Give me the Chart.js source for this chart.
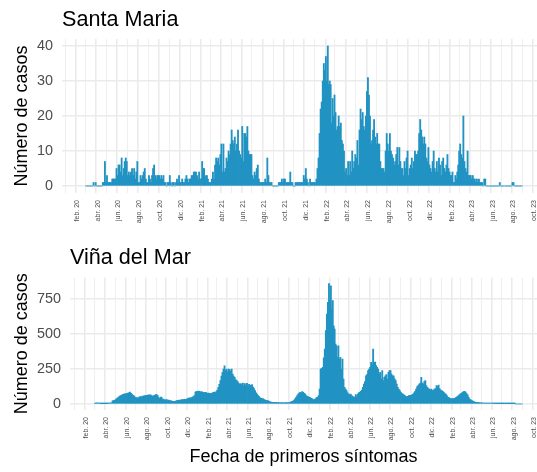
<!DOCTYPE html>
<html>
<head>
<meta charset="utf-8">
<script src="https://cdn.jsdelivr.net/npm/chart.js@4.4.1/dist/chart.umd.min.js"></script>
<style>
  html, body { margin: 0; padding: 0; background: #ffffff; }
  #wrap { position: relative; width: 537px; height: 472px; overflow: hidden; background: #ffffff; }
  #wrap canvas { position: absolute; left: 0; }
</style>
</head>
<body>
<div id="wrap">
  <canvas id="santaMaria" width="537" height="236" style="top:0px"></canvas>
  <canvas id="vina" width="537" height="236" style="top:236px"></canvas>
</div>
<script>
// Daily cases grouped as ten consecutive slices per calendar month.
// Santa Maria: series starts March 2020.
const smCases2020 = [
  0,0,0,0,0,0,0,1,0,1,
  0,0,0,0,0,0,1,1,7,1,
  3,1,1,1,1,2,2,2,2,5,
  3,6,6,4,8,3,5,7,8,7,
  3,4,3,4,5,3,5,2,4,7,
  1,1,3,2,3,4,5,2,1,1,
  3,2,1,3,5,6,3,2,3,3,
  3,2,3,2,3,1,1,0,1,1,
  3,1,0,1,1,0,1,2,1,3,
  1,1,2,1,1,2,3,2,1,2
];
const smCases2021 = [
  2,3,3,4,4,4,3,2,4,2,
  2,7,5,5,2,3,3,2,1,1,
  1,2,4,2,6,8,7,8,6,9,
  12,4,12,4,5,8,7,10,9,12,
  16,13,12,14,10,12,16,10,9,8,
  17,7,15,15,14,17,10,9,9,9,
  3,2,4,3,5,6,2,1,1,1,
  1,1,2,1,8,3,1,1,1,0,
  0,0,0,0,0,1,1,1,2,1,
  2,2,1,1,1,1,4,1,1,0,
  0,1,1,1,1,1,1,1,1,3,
  2,5,2,1,0,2,1,1,1,1
];
const smCases2022 = [
  1,2,5,8,15,22,24,30,35,33,
  37,30,40,29,30,29,18,25,20,26,
  21,16,17,20,17,18,13,12,10,4,
  5,3,7,3,7,4,10,5,7,9,
  8,13,6,16,22,19,21,17,16,20,
  27,31,26,20,12,13,16,19,14,12,
  15,12,12,7,5,5,5,4,10,15,
  12,10,15,10,9,8,6,7,9,11,
  6,11,7,5,5,3,7,5,8,10,
  3,5,6,8,5,7,10,9,9,10,
  15,19,16,14,12,14,12,8,7,11,
  6,5,4,7,10,5,4,7,4,8
];
const smCases2023 = [
  6,3,7,8,5,4,6,9,5,4,
  3,3,4,1,1,3,2,4,6,10,
  12,9,8,20,7,5,4,10,3,3,
  3,2,3,2,2,1,2,1,2,1,
  1,1,0,2,2,0,0,0,0,0,
  0,0,0,0,0,0,0,0,1,0,
  0,0,0,0,0,0,0,0,0,0,
  1,1,0,0,0,0,0,0,0,0
];

// Viña del Mar: series starts March 2020.
const vinaCases2020 = [
  4,7,8,6,7,3,3,2,3,3,
  3,3,3,6,7,8,7,22,24,26,
  32,39,44,50,56,60,64,68,70,72,
  73,75,78,80,85,76,70,61,58,50,
  44,46,40,49,52,50,56,55,60,58,
  61,62,66,63,65,60,56,58,62,68,
  68,60,45,39,50,45,32,35,28,30,
  31,24,28,24,22,20,19,17,19,22,
  24,26,27,25,29,32,30,33,32,34,
  36,40,44,42,46,49,52,60,85,90
];
const vinaCases2021 = [
  88,92,90,85,88,84,83,80,83,78,
  76,78,76,72,76,80,83,85,82,88,
  100,119,140,167,200,226,250,272,240,250,
  230,250,245,235,250,214,200,190,175,167,
  160,150,140,145,138,150,128,145,132,148,
  125,140,135,130,138,120,110,95,80,71,
  60,52,44,40,38,36,32,28,26,24,
  22,18,15,12,12,12,11,10,12,10,
  10,9,8,10,8,9,8,10,9,10,
  9,12,15,17,20,28,36,48,60,71,
  78,83,80,88,83,76,70,60,55,52,
  48,45,40,36,30,33,36,45,48,60
];
const vinaCases2022 = [
  107,250,255,262,330,393,524,643,726,860,
  738,845,678,738,559,536,428,416,333,416,
  321,333,250,321,178,119,107,95,80,71,
  65,71,60,55,48,50,67,55,70,80,
  83,90,100,119,143,160,202,210,238,250,
  262,297,285,393,297,300,274,262,250,214,
  226,178,238,167,190,202,210,178,226,238,
  238,214,202,202,180,167,143,119,107,95,
  83,75,71,65,60,55,48,55,60,62,
  60,65,71,80,90,107,125,131,143,150,
  190,150,143,160,167,131,119,110,107,100,
  107,95,100,107,110,131,125,135,110,100
];
const vinaCases2023 = [
  95,90,83,75,70,60,48,45,40,36,
  36,38,36,40,45,50,55,60,68,72,
  76,84,88,90,85,75,65,48,35,29,
  25,20,17,14,12,12,10,10,9,8,
  8,7,6,7,6,5,6,5,5,5,
  5,4,4,4,4,3,4,3,4,3,
  3,3,4,3,3,3,3,3,3,3,
  3,3,3,0,0,0,0,0,0,0
];

// Axis text
const monthAbbr = ['ene.','feb.','mar.','abr.','may.','jun.','jul.','ago.','sep.','oct.','nov.','dic.'];
const yTitle = 'Número de casos';
const xTitle = 'Fecha de primeros síntomas';
const smTicks = [0, 5, 10, 15, 20, 25, 30, 35, 40];
const vinaTicks = [0, 125, 250, 375, 500, 625, 750, 875];

const FONT = '"Liberation Sans", Arial, Helvetica, sans-serif';
const BAR = '#2193c3';
const GRID = '#ebebeb';
const DAY = 86400000;
const ORIGIN = Date.UTC(2020, 0, 1);
const dayOf = (y, m, d) => (Date.UTC(y, m, d) - ORIGIN) / DAY;

// Monthly grid lines from Jan 2020 to Oct 2023; every other month is labelled.
const monthTicks = [];
for (let y = 2020; y <= 2023; y++) {
  for (let m = 0; m < 12; m++) {
    if (y === 2023 && m > 9) break;
    const isMajor = m % 2 === 1;
    monthTicks.push({
      value: dayOf(y, m, 1),
      isMajor,
      label: isMajor ? monthAbbr[m] + ' ' + String(y).slice(2) : ''
    });
  }
}

// Place the ten slices of each month evenly across that month.
function toPoints(startYear, startMonth, values) {
  const pts = [];
  for (let k = 0; k < values.length; k++) {
    const mi = startMonth + Math.floor(k / 10);
    const y = startYear + Math.floor(mi / 12);
    const m = mi % 12;
    const s = dayOf(y, m, 1);
    const e = dayOf(y, m + 1, 1);
    pts.push({ x: s + ((k % 10) + 0.5) * (e - s) / 10, y: values[k] });
  }
  return pts;
}

const smPoints = toPoints(2020, 2, [...smCases2020, ...smCases2021, ...smCases2022, ...smCases2023]);
const vinaPoints = toPoints(2020, 2, [...vinaCases2020, ...vinaCases2021, ...vinaCases2022, ...vinaCases2023]);

// Panel title drawn flush with the plotting area.
const panelTitle = {
  id: 'panelTitle',
  afterDraw(chart, args, o) {
    const { ctx, chartArea } = chart;
    ctx.save();
    ctx.font = '21.6px ' + FONT;
    ctx.fillStyle = '#000000';
    ctx.textAlign = 'left';
    ctx.textBaseline = 'alphabetic';
    ctx.fillText(o.text, chartArea.left, o.y);
    ctx.restore();
  }
};

function panel(id, cfg) {
  return new Chart(document.getElementById(id), {
    type: 'bar',
    data: {
      datasets: [{
        data: cfg.points,
        backgroundColor: BAR,
        borderWidth: 0,
        barThickness: 1.2,
        grouped: false
      }]
    },
    options: {
      responsive: false,
      animation: false,
      devicePixelRatio: 1,
      layout: { padding: { top: cfg.top, left: 0, right: 0, bottom: 0 } },
      plugins: {
        legend: { display: false },
        tooltip: { enabled: false },
        panelTitle: { text: cfg.title, y: cfg.titleY }
      },
      scales: {
        x: {
          type: 'linear',
          min: cfg.xmin,
          max: cfg.xmax,
          offset: false,
          afterBuildTicks: s => { s.ticks = monthTicks.map(t => ({ value: t.value, isMajor: t.isMajor })); },
          afterFit: s => { s.height = cfg.xh; s.paddingLeft = 0; s.paddingRight = 0; },
          grid: {
            offset: false,
            drawTicks: false,
            color: GRID,
            lineWidth: c => (c.tick && c.tick.isMajor) ? 1.6 : 0.8
          },
          border: { display: false },
          ticks: {
            autoSkip: false,
            minRotation: 90,
            maxRotation: 90,
            padding: 7,
            labelOffset: 1.5,
            color: '#4d4d4d',
            font: { family: FONT, size: 7 },
            callback: (v, i) => monthTicks[i] ? monthTicks[i].label : ''
          },
          title: cfg.showXTitle ? {
            display: true,
            text: xTitle,
            color: '#000000',
            font: { family: FONT, size: 18 },
            padding: { top: 0, bottom: 3.7 }
          } : { display: false }
        },
        y: {
          min: cfg.ymin,
          max: cfg.ymax,
          afterBuildTicks: s => { s.ticks = cfg.yTicks.map(v => ({ value: v, isMajor: v % cfg.yMajor === 0 })); },
          afterFit: s => { s.width = cfg.yw; s.paddingTop = 0; s.paddingBottom = 0; },
          grid: {
            drawTicks: false,
            color: GRID,
            lineWidth: c => (c.tick && c.tick.isMajor) ? 1.6 : 0.8
          },
          border: { display: false },
          ticks: {
            padding: 9,
            color: '#4d4d4d',
            font: { family: FONT, size: 14.4 },
            callback: v => (v % cfg.yMajor === 0) ? String(v) : ''
          },
          title: {
            display: true,
            text: yTitle,
            color: '#000000',
            font: { family: FONT, size: 18 },
            padding: { top: 11.7, bottom: 0 }
          }
        }
      }
    },
    plugins: [panelTitle]
  });
}

panel('santaMaria', {
  points: smPoints,
  title: 'Santa Maria',
  titleY: 25.5,
  top: 39,
  xh: 43,
  yw: 62,
  xmin: -9.1,
  xmax: 1381.4,
  ymin: -2,
  ymax: 42,
  yTicks: smTicks,
  yMajor: 10,
  showXTitle: false
});

panel('vina', {
  points: vinaPoints,
  title: 'Viña del Mar',
  titleY: 28,
  top: 41.6,
  xh: 62,
  yw: 70,
  xmin: -13.75,
  xmax: 1382.4,
  ymin: -43,
  ymax: 903,
  yTicks: vinaTicks,
  yMajor: 250,
  showXTitle: true
});
</script>
</body>
</html>
